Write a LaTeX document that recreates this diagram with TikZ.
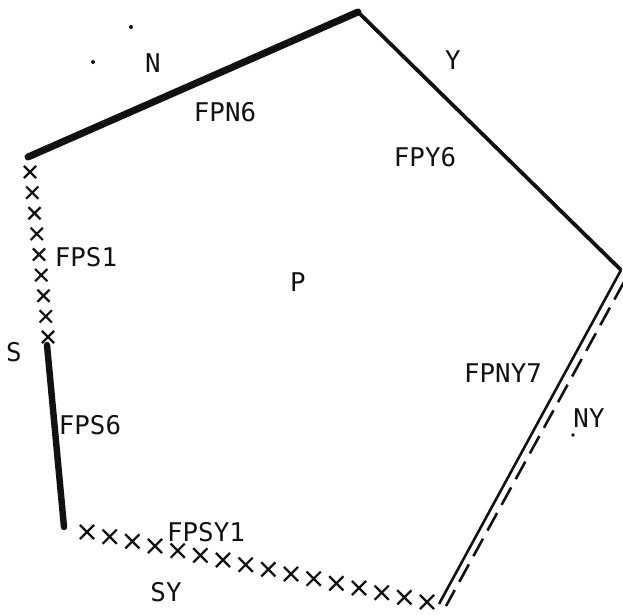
\documentclass[tikz,border=0pt]{standalone}
\usepackage{fontspec}
\setmonofont{DejaVu Sans Mono}
\usepackage{tikz}
\usetikzlibrary{calc,shapes.misc}
\definecolor{inkmain}{HTML}{111111}
\tikzset{every node/.append style={font=\ttfamily\fontsize{22}{26}\selectfont,text=inkmain},
  xmark/.style={draw=inkmain,cross out,line width=1.9pt,inner sep=0pt,minimum size=#1},
  xmark/.default=0.3cm}

\begin{document}
\begin{tikzpicture}[x=0.03cm,y=-0.03cm]
  \useasboundingbox (0,0) rectangle (623,614);
  % corners of the face P, in pixel units of the scan (y runs down)
  \coordinate (A) at (28,157);   \coordinate (B) at (358,12);
  \coordinate (C) at (621,270);  \coordinate (D) at (439,604);
  \coordinate (E) at (64,527);
  \coordinate (Sa) at (30,172);  \coordinate (Sb) at (48,337);
  \coordinate (Sc) at (47,345);
  \coordinate (Ya) at (87,532);  \coordinate (Yb) at (427,602);
  \coordinate (Ca) at (624,282); \coordinate (Da) at (446,606);
  \draw[inkmain,line width=6pt,line cap=round] (A)--(B);
  \draw[inkmain,line width=3.2pt] (B)--(C);
  \draw[inkmain,line width=2.2pt] (C)--(D);
  \draw[inkmain,line width=2.2pt,dash pattern=on 17pt off 8pt] (Ca)--(Da);
  \draw[inkmain,line width=5.5pt,line cap=round] (Sc)--(E);
  \foreach \i in {0,...,8}
    \node[xmark] at ($(Sa)!\i/8!(Sb)$) {};
  \foreach \i in {0,...,15}
    \node[xmark=0.36cm] at ($(Ya)!\i/15!(Yb)$) {};
  \fill[inkmain] (131,27) circle (2) (93,62) circle (2) (573,435) circle (1.8);
  \node (lN) at (153,63) {N};
  \node (lFPN6) at (225,112) {FPN6};
  \node (lY) at (453,60) {Y};
  \node (lFPY6) at (425,157) {FPY6};
  \node (lFPS1) at (86,257) {FPS1};
  \node (lP) at (298,282) {P};
  \node (lS) at (14,352) {S};
  \node (lFPNY7) at (503,373) {FPNY7};
  \node (lNY) at (589,418) {NY};
  \node (lFPS6) at (90,425) {FPS6};
  \node (lFPSY1) at (206,532) {FPSY1};
  \node (lSY) at (166,592) {SY};
\end{tikzpicture}
\end{document}
